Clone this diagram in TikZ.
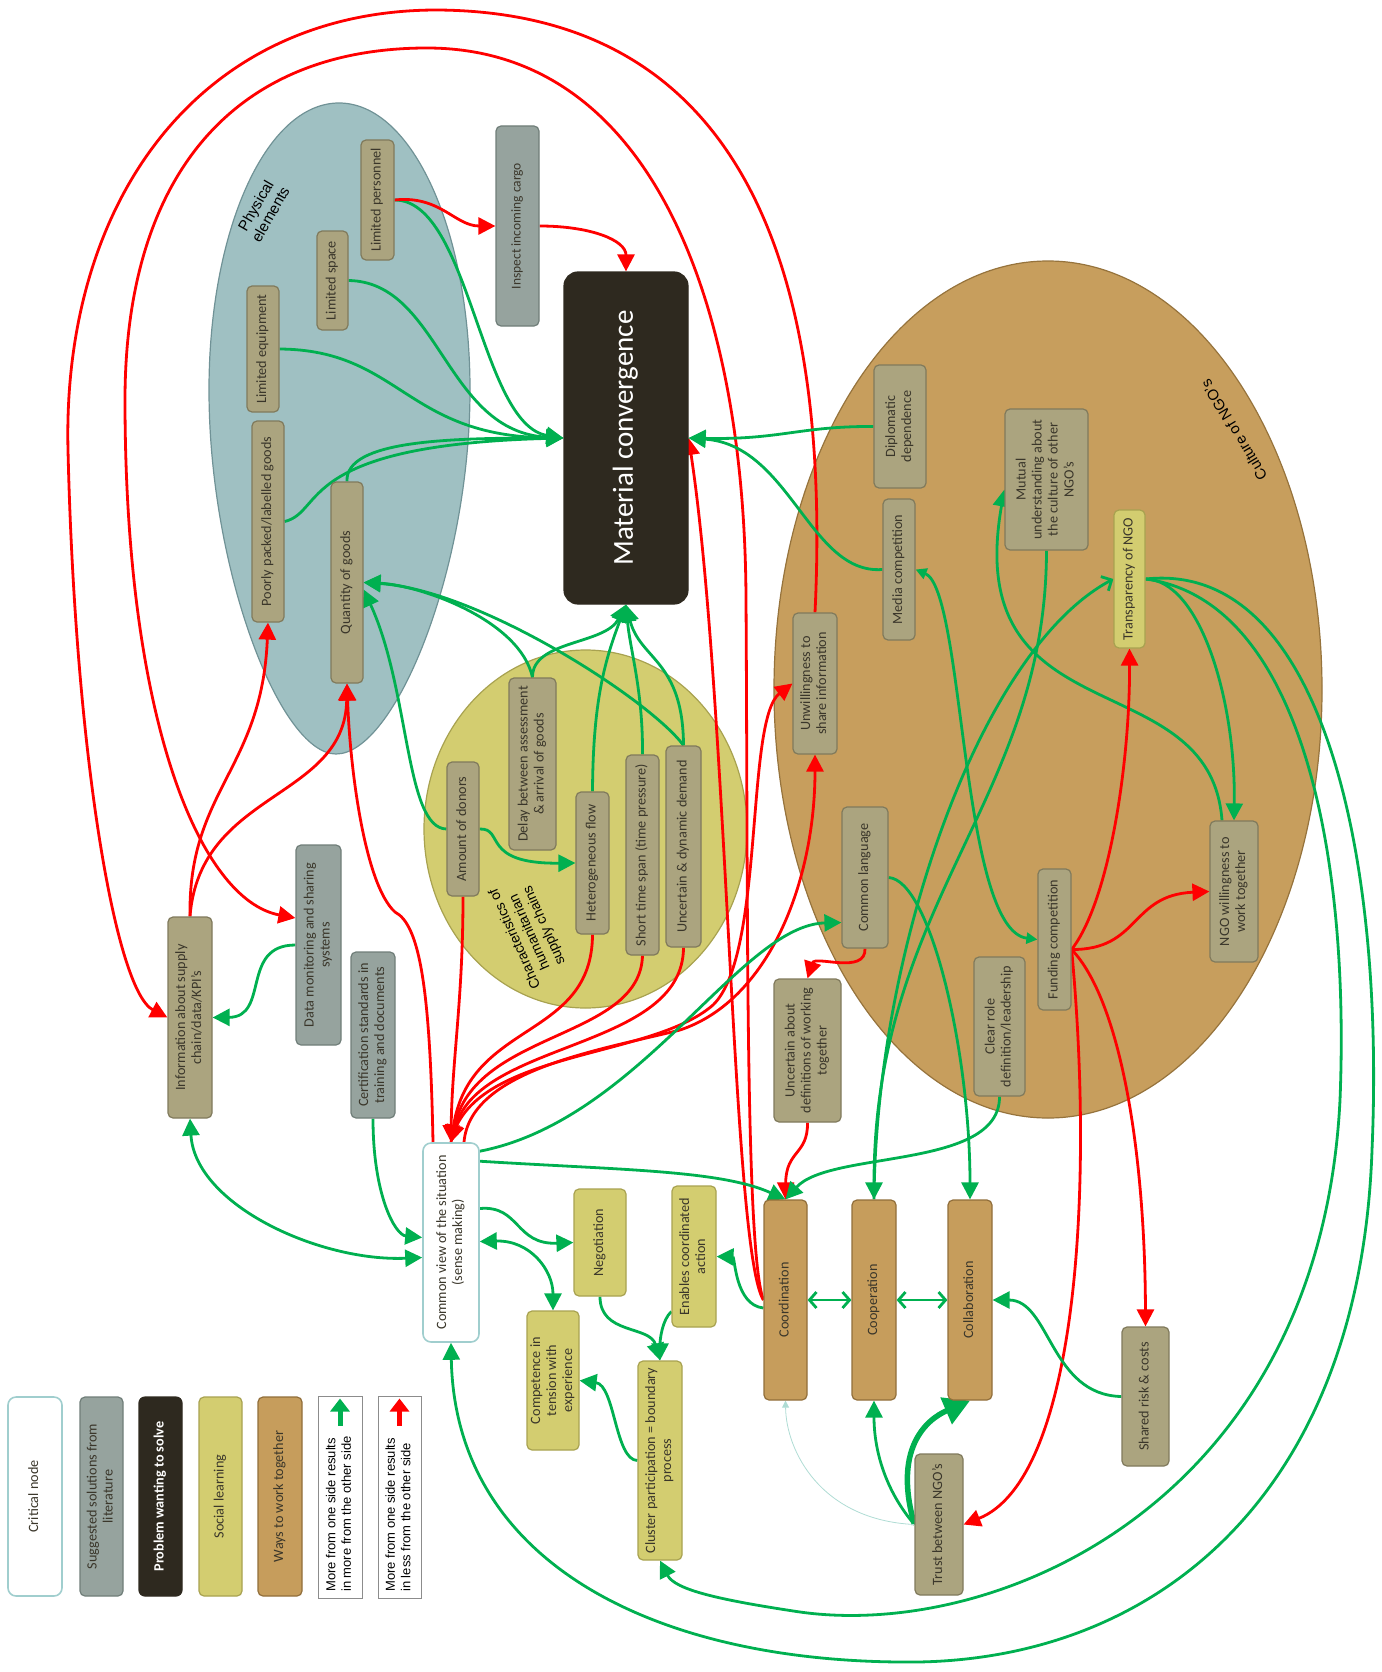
\documentclass[tikz,border=0pt]{standalone}
\usepackage{fontspec}
\setmainfont{Carlito}
\newfontfamily\arialfont{Liberation Sans}
\usepackage{graphicx}
\definecolor{LinkGreen}{RGB}{0,176,80}
\definecolor{LinkRed}{RGB}{255,0,0}
\definecolor{LinkPale}{RGB}{175,220,212}
\definecolor{FillOlive}{RGB}{171,164,127}
\definecolor{BorderOlive}{RGB}{128,122,92}
\definecolor{FillSlate}{RGB}{150,163,158}
\definecolor{BorderSlate}{RGB}{112,126,121}
\definecolor{FillDark}{RGB}{46,41,31}
\definecolor{FillSocial}{RGB}{211,205,112}
\definecolor{BorderSocial}{RGB}{168,162,80}
\definecolor{FillWays}{RGB}{198,157,92}
\definecolor{BorderWays}{RGB}{145,110,58}
\definecolor{FillPhys}{RGB}{159,192,194}
\definecolor{BorderPhys}{RGB}{112,146,150}
\definecolor{FillCult}{RGB}{199,158,93}
\definecolor{BorderCult}{RGB}{150,115,60}
\definecolor{BorderCrit}{RGB}{160,206,206}
\definecolor{TextDark}{RGB}{58,54,42}
\usetikzlibrary{arrows.meta, calc}
\pgfdeclarelayer{bg}
\pgfdeclarelayer{links}
\pgfsetlayers{bg,links,main}
% vertical text, read from bottom to top
\newcommand{\vt}[1]{\rotatebox{90}{\begin{tabular}{@{}c@{}}#1\end{tabular}}}
\newcommand{\vl}[1]{\rotatebox{90}{\begin{tabular}{@{}l@{}}#1\end{tabular}}}
\tikzset{
  % boxes
  box/.style={
    rectangle, rounded corners=5pt,
    line width=1.2pt, inner sep=1pt,
    text=TextDark,
    font=\fontsize{14.2}{16}\selectfont
  },
  olive/.style={box, fill=FillOlive, draw=BorderOlive},
  slate/.style={box, fill=FillSlate, draw=BorderSlate},
  social/.style={box, fill=FillSocial, draw=BorderSocial},
  ways/.style={box, fill=FillWays, draw=BorderWays},
  critical/.style={box, fill=white, draw=BorderCrit, line width=1.6pt, rounded corners=8pt},
  problem/.style={box, fill=FillDark, draw=FillDark, text=white, rounded corners=14pt},
  sz/.style 2 args={minimum width=#1pt, minimum height=#2pt},
  legbox/.style={rectangle, draw=black!45, line width=1pt, fill=white},
  legtext/.style={inner sep=0pt, font=\arialfont\fontsize{13}{15.5}\selectfont},
  grouplabel/.style={align=center, font=\arialfont\fontsize{15}{17}\selectfont},
  % connectors
  garr/.style={draw=LinkGreen, line width=2.8pt, -{Triangle[length=17pt,width=17pt]}},
  rarr/.style={draw=LinkRed, line width=2.8pt, -{Triangle[length=17pt,width=17pt]}},
  gtwin/.style={draw=LinkGreen, line width=2.8pt,
    {Triangle[length=11pt,width=11pt]}-{Triangle[length=11pt,width=11pt]}},
  gtwinbig/.style={draw=LinkGreen, line width=2.8pt,
    {Triangle[length=17pt,width=17pt]}-{Triangle[length=17pt,width=17pt]}},
  gbarb/.style={draw=LinkGreen, line width=2.8pt,
    {Straight Barb[length=7pt,width=16pt]}-{Straight Barb[length=7pt,width=16pt]}},
  gbarr/.style={draw=LinkGreen, line width=2.8pt, -{Straight Barb[length=8pt,width=16pt]}},
  gthick/.style={draw=LinkGreen, line width=5.5pt, -{Triangle[length=26pt,width=28pt]}},
  gthin/.style={draw=LinkPale, line width=0.8pt, -{Triangle[length=7pt,width=7pt]}},
  legarr/.style={line width=5pt, -{Triangle[length=13pt,width=19pt]}},
}
\begin{document}
\begin{tikzpicture}[x=1pt, y=-1pt]
\useasboundingbox (0,0) rectangle (1381,1672);

%% Legend
\node[critical, sz={54}{199}] (lgcrit) at (35,1496.5) {\vt{Critical node}};
\node[slate, sz={43}{199}] (lgsug) at (101.5,1496.5) {\vt{Suggested solutions from\\literature}};
\node[problem, sz={43}{199}, rounded corners=6pt, font=\fontsize{14.2}{16}\selectfont\bfseries]
  (lgprob) at (160.5,1496.5) {\vt{Problem wanting to solve}};
\node[social, sz={43}{199}] (lgsoc) at (220.5,1496.5) {\vt{Social learning}};
\node[ways, sz={44}{199}] (lgways) at (280,1496.5) {\vt{Ways to work together}};
\node[legbox, sz={44}{202}] (lggreen) at (340,1497) {};
\node[legtext, anchor=south] (lggreentext) at (340,1592) {\vl{More from one side results\\in more from the other side}};
\node[legbox, sz={43}{202}] (lgred) at (399.5,1497) {};
\node[legtext, anchor=south] (lgredtext) at (399.5,1592) {\vl{More from one side results\\in less from the other side}};
\draw[legarr, LinkGreen] ([yshift=-30pt]lggreen.north) -- ([yshift=-3pt]lggreen.north);
\draw[legarr, LinkRed] ([yshift=-30pt]lgred.north) -- ([yshift=-3pt]lgred.north);

%% Physical elements
\node[olive, sz={33}{120}] (lpers) at (377.5,200) {\vt{Limited personnel}};
\node[olive, sz={31}{99}] (lspace) at (332.5,280.5) {\vt{Limited space}};
\node[olive, sz={32}{126}] (lequip) at (263,349) {\vt{Limited equipment}};
\node[olive, sz={32}{201}] (poorly) at (268,521.5) {\vt{Poorly packed/labelled goods}};
\node[olive, sz={32}{201}] (qty) at (347,582.5) {\vt{Quantity of goods}};
\node[slate, sz={43}{200}, font=\fontsize{13.5}{15.5}\selectfont] (inspect) at (517.5,226) {\vt{Inspect incoming cargo}};
\node[problem, sz={124}{332}, font=\fontsize{29}{34}\selectfont] (mc) at (626,438) {\vt{Material convergence}};

%% Characteristics of humanitarian supply chains
\node[olive, sz={32}{134}] (donors) at (463,829) {\vt{Amount of donors}};
\node[olive, sz={47}{172}] (delay) at (532.5,764) {\vt{Delay between assessment\\\& arrival of goods}};
\node[olive, sz={33}{142}] (hetero) at (592.5,863) {\vt{Heterogeneous flow}};
\node[olive, sz={33}{200}] (short) at (642.5,855) {\vt{Short time span (time pressure)}};
\node[olive, sz={35}{201}] (udemand) at (683.5,846.5) {\vt{Uncertain \& dynamic demand}};

%% Culture of NGO's
\node[olive, sz={52}{123}] (diplo) at (900,426.5) {\vt{Diplomatic\\dependence}};
\node[olive, sz={32}{141}] (media) at (899,569.5) {\vt{Media competition}};
\node[olive, sz={83}{141}] (mutual) at (1046.5,479.5) {\vt{Mutual\\understanding about\\the culture of other\\NGO’s}};
\node[social, sz={31}{138}] (transp) at (1129.5,579) {\vt{Transparency of NGO}};
\node[olive, sz={44}{141}] (unwill) at (815,683.5) {\vt{Unwillingness to\\share information}};
\node[olive, sz={46}{141}] (comlang) at (865,877.5) {\vt{Common language}};
\node[olive, sz={67}{143}] (uncdef) at (807.5,1050.5) {\vt{Uncertain about\\definitions of working\\together}};
\node[olive, sz={33}{141}] (funding) at (1054.5,939.5) {\vt{Funding competition}};
\node[olive, sz={51}{139}] (clear) at (999.5,1026.5) {\vt{Clear role\\definition/leadership}};
\node[olive, sz={48}{141}] (willing) at (1234,891.5) {\vt{NGO willingness to\\work together}};

%% Left side
\node[olive, sz={44}{201}] (info) at (190,1017.5) {\vt{Information about supply\\chain/data/KPI’s}};
\node[slate, sz={45}{200}] (datamon) at (318.5,945) {\vt{Data monitoring and sharing\\systems}};
\node[slate, sz={44}{166}] (certif) at (373,1035) {\vt{Certification standards in\\training and documents}};
\node[critical, sz={56}{199}] (cview) at (451,1242.5) {\vt{Common view of the situation\\(sense making)}};

%% Bottom
\node[social, sz={52}{107}] (nego) at (600,1242.5) {\vt{Negotiation}};
\node[social, sz={44}{141}] (enables) at (694,1256.5) {\vt{Enables coordinated\\action}};
\node[social, sz={52}{139}] (compet) at (553,1380.5) {\vt{Competence in\\tension with\\experience}};
\node[social, sz={44}{199}] (cluster) at (660,1460.5) {\vt{Cluster participation = boundary\\process}};
\node[ways, sz={43}{200}] (coord) at (785.5,1300) {\vt{Coordination}};
\node[ways, sz={44}{200}] (coop) at (874,1300) {\vt{Cooperation}};
\node[ways, sz={44}{200}] (collab) at (970,1300) {\vt{Collaboration}};
\node[olive, sz={48}{141}] (trust) at (939,1524.5) {\vt{Trust between NGO’s}};
\node[olive, sz={47}{139}] (shared) at (1145.5,1396.5) {\vt{Shared risk \& costs}};

%% Group labels
\node[grouplabel, rotate=60] (physlabel) at (263,210) {Physical\\elements};
\node[grouplabel, font=\arialfont\fontsize{14}{16}\selectfont, rotate=114]
  (charlabel) at (530,932) {Characteristics of\\humanitarian\\supply chains};
\node[grouplabel, rotate=121] (cultlabel) at (1234,430) {Culture of NGO’s};

%% Groups
\begin{pgfonlayer}{bg}
  \draw[fill=FillPhys, draw=BorderPhys, line width=1.2pt]
    (339,103) .. controls (412,103) and (470,230) .. (470,390)
    .. controls (470,570) and (395,754) .. (336,754)
    .. controls (280,754) and (209,570) .. (209,390)
    .. controls (209,230) and (266,103) .. (339,103) -- cycle;
  \draw[fill=FillSocial, draw=BorderSocial, line width=1.2pt]
    (585.5,829) ellipse [x radius=161.5pt, y radius=179pt];
  \draw[fill=FillCult, draw=BorderCult, line width=1.2pt]
    (1048,689.5) ellipse [x radius=274pt, y radius=428.5pt];
\end{pgfonlayer}

%% Connectors
\begin{pgfonlayer}{links}
  % physical elements -> material convergence
  \draw[garr] (lpers.east) .. controls (470,200) and (480,425) .. (mc.west);
  \draw[garr] (lspace.east) .. controls (440,282) and (445,432) .. (mc.west);
  \draw[garr] (lequip.east) .. controls (400,350) and (405,436) .. (mc.west);
  \draw[garr] (poorly.east) .. controls (325,512) and (295,445) .. (mc.west);
  \draw[garr] (qty.north) .. controls (345,440) and (450,438) .. (mc.west);
  \draw[rarr] (lpers.east) .. controls (440,195) and (455,226) .. (inspect.west);
  \draw[rarr] (inspect.east) .. controls (590,226) and (626,240) .. (mc.north);

  % characteristics -> material convergence / quantity
  \draw[garr] (delay.north) .. controls (532,640) and (605,645) .. (mc.south);
  \draw[garr] (hetero.north) .. controls (593,700) and (605,660) .. (mc.south);
  \draw[garr] (short.north) .. controls (643,690) and (630,650) .. (mc.south);
  \draw[garr] (udemand.north) .. controls (683,660) and (640,660) .. (mc.south);
  \draw[garr] (delay.north) .. controls (520,620) and (420,585) .. (qty.east);
  \draw[garr] (udemand.north) .. controls (650,700) and (480,590) .. (qty.east);
  \draw[garr] (donors.west) .. controls (405,828) and (410,690) .. ([yshift=-7pt]qty.east);
  \draw[garr] (donors.east) .. controls (505,828) and (480,864) .. (hetero.west);

  % characteristics -> common view
  \draw[rarr] (donors.south) .. controls (463,1000) and (452,1060) .. (cview.north);
  \draw[rarr] (hetero.south) .. controls (592,1040) and (470,1020) .. (cview.north);
  \draw[rarr] (short.south) .. controls (640,1040) and (475,1030) .. (cview.north);
  \draw[rarr] (udemand.south) .. controls (683,1050) and (480,1040) .. (cview.north);

  % common view -> unwillingness
  \draw[rarr] (cview.north) .. controls (470,1050) and (650,1060) .. (713,1005)
    .. controls (765,955) and (745,720) .. (unwill.west);
  \draw[rarr] ([xshift=13pt]cview.north) .. controls (470,1070) and (600,1050) .. (680,1030)
    .. controls (770,1000) and (815,880) .. (unwill.south);

  % common view / information -> physical elements
  \draw[rarr] ([xshift=-18pt]cview.north) .. controls (430,990) and (420,925) .. (395,912)
    .. controls (365,885) and (350,770) .. (qty.south);
  \draw[rarr] (info.north) .. controls (188,790) and (262,770) .. (poorly.south);
  \draw[rarr] (info.north) .. controls (200,790) and (345,800) .. (qty.south);

  % long red arcs
  \draw[rarr] (unwill.north) .. controls (830,300) and (760,12) .. (437,10)
    .. controls (200,10) and (62,200) .. (68,450)
    .. controls (75,750) and (115,990) .. (info.west);
  \draw[rarr] (coord.west) .. controls (745,1250) and (748,900) .. (746,600)
    .. controls (745,300) and (650,48) .. (427,48)
    .. controls (230,48) and (125,180) .. (125,400)
    .. controls (125,720) and (200,900) .. ([yshift=27pt]datamon.west);
  \draw[rarr] (coord.west) .. controls (732,1250) and (728,700) .. (mc.east);

  % inside the culture of NGO's
  \draw[rarr] (comlang.south) .. controls (866,975) and (815,955) .. (uncdef.north);
  \draw[rarr] (uncdef.south) .. controls (808,1155) and (786,1150) .. (coord.north);
  \draw[garr] ([yshift=-9pt]cview.north east) .. controls (640,1120) and (740,925) .. ([yshift=-45pt]comlang.west);
  \draw[garr] ([yshift=-19pt]cview.north east) .. controls (620,1170) and (720,1170) .. (coord.north);
  \draw[garr] (clear.south) .. controls (1000,1170) and (830,1150) .. (coord.north);
  \draw[garr] (comlang.east) .. controls (930,880) and (970,1050) .. (collab.north);
  \draw[garr] (mutual.south) .. controls (1046,800) and (874,900) .. (coop.north);
  \draw[gbarr] (coop.north) .. controls (876,950) and (980,650) .. (transp.west);
  \draw[gtwin] (media.east) .. controls (965,590) and (960,930) .. (funding.west);
  \draw[garr] ([xshift=-12pt]willing.north) .. controls (1210,660) and (960,740) .. ([yshift=-10pt]mutual.west);
  \draw[garr] (transp.east) .. controls (1200,580) and (1236,700) .. (willing.north);
  \draw[garr] (transp.east) .. controls (1300,600) and (1350,850) .. (1340,1100)
    .. controls (1320,1500) and (1000,1640) .. (800,1612)
    .. controls (720,1600) and (675,1590) .. (cluster.south);
  \draw[garr] (transp.east) .. controls (1320,560) and (1385,850) .. (1372,1150)
    .. controls (1360,1500) and (1150,1666) .. (900,1662)
    .. controls (650,1660) and (455,1560) .. (cview.south);

  % funding competition
  \coordinate (fsrc) at ([yshift=-10pt]funding.east);
  \draw[rarr] (fsrc) .. controls (1140,950) and (1130,895) .. (willing.west);
  \draw[rarr] (fsrc) .. controls (1110,900) and (1130,760) .. (transp.south);
  \draw[rarr] (fsrc) .. controls (1095,1200) and (1075,1480) .. (trust.east);
  \draw[rarr] (fsrc) .. controls (1120,1000) and (1145,1150) .. (shared.north);

  % ways to work together
  \draw[gbarb] (coord.east) -- (coop.west);
  \draw[gbarb] (coop.east) -- (collab.west);
  \draw[garr] (shared.west) .. controls (1050,1395) and (1050,1300) .. (collab.east);
  \draw[gthick] (trust.west) .. controls (893,1450) and (925,1420) .. (collab.south);
  \draw[garr] (trust.west) .. controls (885,1490) and (874,1450) .. (coop.south);
  \draw[gthin] (trust.west) .. controls (820,1520) and (786,1450) .. (coord.south);
  \draw[garr] ([yshift=-8pt]coord.west) .. controls (735,1305) and (735,1257) .. (enables.east);

  % social learning
  \draw[garr] ([yshift=34pt]cview.east) .. controls (520,1205) and (515,1245) .. (nego.west);
  \draw[gtwinbig] ([yshift=1pt]cview.east) .. controls (530,1240) and (553,1270) .. (compet.north);
  \draw[garr] (nego.south) .. controls (600,1335) and (650,1325) .. (cluster.north);
  \draw[garr] ([yshift=-55pt]enables.west) .. controls (662,1320) and (660,1340) .. (cluster.north);
  \draw[garr] (cluster.west) .. controls (615,1460) and (615,1385) .. (compet.east);

  % left side
  \draw[garr] (certif.south) .. controls (373,1195) and (395,1235) .. ([yshift=5pt]cview.west);
  \draw[gtwinbig] (info.south) .. controls (195,1205) and (320,1262) .. ([yshift=-15pt]cview.west);
  \draw[garr] (datamon.west) .. controls (240,945) and (270,1017) .. (info.east);

  % culture -> material convergence
  \draw[garr] (diplo.west) .. controls (800,426) and (780,440) .. (mc.east);
  \draw[garr] (media.west) .. controls (810,575) and (790,445) .. (mc.east);
\end{pgfonlayer}

\end{tikzpicture}
\end{document}
